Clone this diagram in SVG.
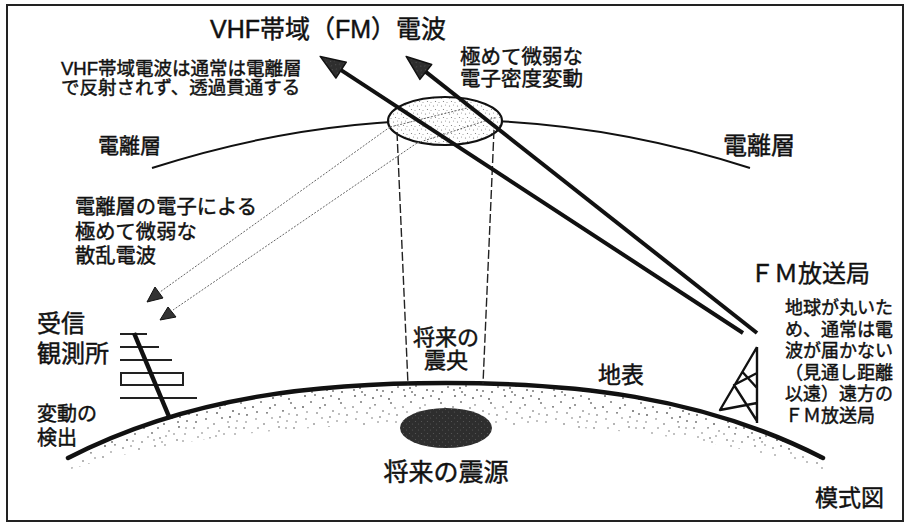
<svg xmlns="http://www.w3.org/2000/svg" width="911" height="524" viewBox="0 0 911 524">
  <defs>
    <style>
      text { font-family: "Liberation Sans", "Noto Sans CJK JP", sans-serif; fill: #111; stroke: #111; stroke-width: 0.45; }
      .thick { fill: none; stroke: #111; stroke-width: 4.5; stroke-linecap: round; }
      .ray { fill: none; stroke: #111; stroke-width: 4; }
      .layer { fill: none; stroke: #111; stroke-width: 2; }
      .dash { fill: none; stroke: #222; stroke-width: 1.4; stroke-dasharray: 9 3; }
      .scatter { fill: none; stroke: #666; stroke-width: 1; stroke-dasharray: 2 1.5; }
      .ant { fill: none; stroke: #222; stroke-width: 2; }
      .tower { fill: none; stroke: #111; stroke-width: 2.4; stroke-linejoin: round; }
      .tri { fill: #333; stroke: #111; stroke-width: 1; }
    </style>
    <pattern id="stipple" width="50" height="50" patternUnits="userSpaceOnUse">
      <g fill="#555">
        <circle cx="3" cy="7" r="0.8"/><circle cx="11" cy="2" r="0.7"/><circle cx="17" cy="13" r="0.8"/>
        <circle cx="25" cy="5" r="0.7"/><circle cx="33" cy="11" r="0.8"/><circle cx="41" cy="3" r="0.7"/>
        <circle cx="47" cy="15" r="0.8"/><circle cx="6" cy="19" r="0.7"/><circle cx="14" cy="24" r="0.8"/>
        <circle cx="22" cy="18" r="0.7"/><circle cx="29" cy="27" r="0.8"/><circle cx="37" cy="21" r="0.7"/>
        <circle cx="44" cy="28" r="0.8"/><circle cx="2" cy="33" r="0.7"/><circle cx="10" cy="38" r="0.8"/>
        <circle cx="19" cy="31" r="0.7"/><circle cx="27" cy="40" r="0.8"/><circle cx="35" cy="34" r="0.7"/>
        <circle cx="42" cy="42" r="0.8"/><circle cx="48" cy="37" r="0.7"/><circle cx="5" cy="46" r="0.8"/>
        <circle cx="15" cy="45" r="0.7"/><circle cx="23" cy="48" r="0.8"/><circle cx="31" cy="46" r="0.7"/>
        <circle cx="39" cy="49" r="0.8"/><circle cx="8" cy="28" r="0.7"/><circle cx="20" cy="8" r="0.8"/>
        <circle cx="45" cy="8" r="0.7"/><circle cx="30" cy="17" r="0.8"/><circle cx="12" cy="42" r="0.7"/>
        <circle cx="36" cy="28" r="0.7"/><circle cx="24" cy="34" r="0.7"/><circle cx="7" cy="12" r="0.7"/>
        <circle cx="39" cy="14" r="0.7"/><circle cx="16" cy="36" r="0.7"/><circle cx="46" cy="22" r="0.7"/>
        <circle cx="28" cy="22" r="0.7"/><circle cx="4" cy="40" r="0.7"/><circle cx="33" cy="41" r="0.7"/>
      </g>
    </pattern>
    <pattern id="fineStipple" width="8" height="8" patternUnits="userSpaceOnUse">
      <circle cx="1.5" cy="2" r="0.6" fill="#777"/>
      <circle cx="5.5" cy="1" r="0.5" fill="#888"/>
      <circle cx="3.5" cy="5.5" r="0.6" fill="#777"/>
      <circle cx="7" cy="6.5" r="0.5" fill="#888"/>
    </pattern>
    <pattern id="darkStipple" width="6" height="6" patternUnits="userSpaceOnUse">
      <rect width="6" height="6" fill="#2e2e2e"/>
      <circle cx="1.5" cy="1.5" r="0.6" fill="#5a5a5a"/>
      <circle cx="4.5" cy="4" r="0.6" fill="#555"/>
    </pattern>
    <marker id="bigHead" viewBox="0 -10 26 20" refX="0" refY="0" markerWidth="26" markerHeight="20" markerUnits="userSpaceOnUse" orient="auto" overflow="visible">
      <path d="M0,-9.5 L25,0 L0,9.5 Z" fill="url(#darkStipple)" stroke="#111" stroke-width="1.5" stroke-linejoin="round"/>
    </marker>
  </defs>

  <rect width="911" height="524" fill="#fff"/>
  <!-- frame -->
  <rect x="7" y="5" width="896" height="516" fill="none" stroke="#222" stroke-width="2"/>

  <!-- earth crust -->
  <g id="earth">
    <path d="M68,458 C190,395 322,383 446,383 C570,383 700,395 823,458 L823,470 C700,432 570,424 446,424 C322,424 190,432 68,470 Z" fill="url(#stipple)"/>
    <path d="M68,458 C190,395 322,383 446,383 C570,383 700,395 823,458 L823,462 C700,414 570,404 446,404 C322,404 190,412 68,462 Z" fill="url(#stipple)"/>
    <path class="thick" d="M68,458 C190,395 322,383 446,383 C570,383 700,395 823,458"/>
    <text x="598" y="383" font-size="23">地表</text>
  </g>

  <!-- ionosphere -->
  <g id="ionosphere">
    <path class="layer" d="M152,168 Q451,72 750,168"/>
    <text x="98" y="153" font-size="21">電離層</text>
    <text x="723" y="154" font-size="24">電離層</text>
  </g>

  <!-- disturbed region in the ionosphere -->
  <g id="disturbance">
    <ellipse cx="445" cy="121" rx="57" ry="24" fill="#fff"/>
    <ellipse cx="445" cy="121" rx="57" ry="24" fill="url(#fineStipple)" stroke="#111" stroke-width="2.2"/>
    <path class="scatter" d="M390,127 L467,108 M417,143 L497,117"/>
    <text x="460" y="64" font-size="20.5">極めて微弱な</text>
    <text x="460" y="86" font-size="20.5">電子密度変動</text>
  </g>

  <!-- future epicentre column -->
  <g id="epicentre">
    <path class="dash" d="M397,132 L408,385 M494,130 L483,384"/>
    <text x="446" y="345" font-size="22" text-anchor="middle">将来の</text>
    <text x="446" y="368" font-size="22" text-anchor="middle">震央</text>
  </g>

  <!-- future hypocentre -->
  <g id="hypocentre">
    <ellipse cx="446" cy="428" rx="46" ry="20" fill="url(#darkStipple)"/>
    <text x="446" y="481" font-size="25" text-anchor="middle">将来の震源</text>
  </g>

  <!-- connectors -->
  <g id="connectors">
    <line class="ray" x1="743" y1="333" x2="341.1" y2="70.1" marker-end="url(#bigHead)"/>
    <line class="ray" x1="757" y1="333" x2="425.8" y2="71.9" marker-end="url(#bigHead)"/>
    <line class="scatter" x1="390" y1="127" x2="160" y2="292"/>
    <line class="scatter" x1="417" y1="143" x2="173" y2="310"/>
    <polygon class="tri" points="147,302 163,298 155,287"/>
    <polygon class="tri" points="160,320 176,317 168,307"/>
  </g>

  <!-- title and notes -->
  <g id="title">
    <text x="210" y="38" font-size="25">VHF帯域（FM）電波</text>
    <text x="61" y="75" font-size="18.5">VHF帯域電波は通常は電離層</text>
    <text x="61" y="94" font-size="18.5">で反射されず、透過貫通する</text>
  </g>

  <g id="scatter-note">
    <text x="75" y="214" font-size="20.3">電離層の電子による</text>
    <text x="75" y="239" font-size="20.3">極めて微弱な</text>
    <text x="75" y="263" font-size="20.3">散乱電波</text>
  </g>

  <!-- receiving station -->
  <g id="receiver">
    <path class="ant" d="M120,334 H147 M120,347 H159 M120,360 H172 M120,398 H197"/>
    <rect class="ant" x="121" y="373" width="62" height="12"/>
    <line x1="134" y1="333" x2="170" y2="419" stroke="#111" stroke-width="4.5"/>
    <text x="37" y="332" font-size="24">受信</text>
    <text x="37" y="362" font-size="24">観測所</text>
    <text x="37" y="421" font-size="20">変動の</text>
    <text x="37" y="445" font-size="20">検出</text>
  </g>

  <!-- FM broadcasting station -->
  <g id="fm-station">
    <path class="tower" d="M757,347 L720,410 L757,403 M757,347 L757,423 M742.5,372 L757,388 M757,373 L734,385 L757,421"/>
    <text x="750" y="282" font-size="24">ＦＭ放送局</text>
    <g font-size="18">
      <text x="785" y="314">地球が丸いた</text>
      <text x="785" y="335.5">め、通常は電</text>
      <text x="785" y="357">波が届かない</text>
      <text x="785" y="378.5">（見通し距離</text>
      <text x="785" y="400">以遠）遠方の</text>
      <text x="785" y="421.5">ＦＭ放送局</text>
    </g>
  </g>

  <text x="815" y="506" font-size="23">模式図</text>
</svg>
